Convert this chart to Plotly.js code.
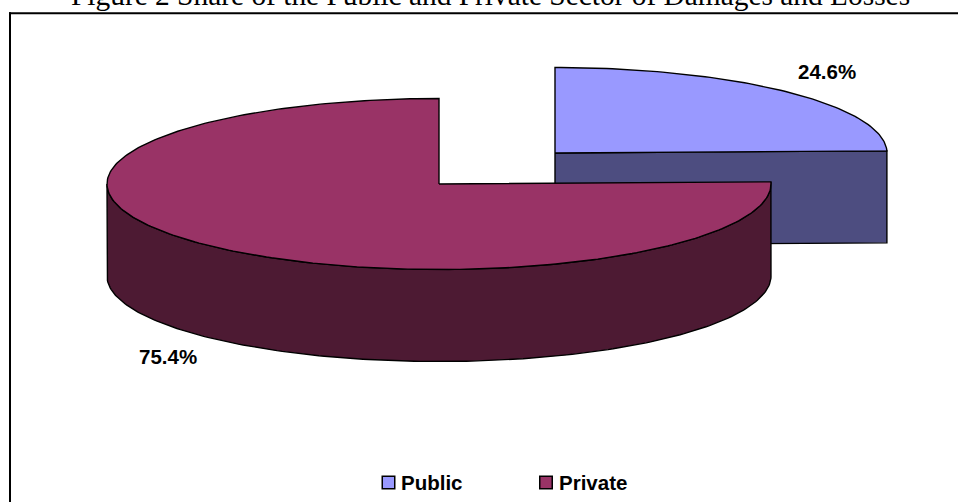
<!DOCTYPE html>
<html>
<head>
<meta charset="utf-8">
<script src="https://cdn.plot.ly/plotly-3.0.1.min.js"></script>
<style>html,body{margin:0;padding:0;background:#fff}</style>
</head>
<body>
<div id="chart" style="width:958px;height:502px"></div>
<script>
// Sector shares, in percent
const categories = ['Public', 'Private'];
const shares = [24.6, 75.4];
const topColors = ['#9999FF', '#993366'];
const sideColors = ['#4D4D80', '#4D1A33'];
const outline = '#000000';

// Projection of the tilted disc, in axis units
const radiusX = 332, radiusY = 85.5, depth = 92;
const centres = [[555, 153], [439, 184]];

// Angles run clockwise from 12 o'clock
function rim(c, deg, drop) {
  const a = deg * Math.PI / 180;
  return [c[0] + radiusX * Math.sin(a), c[1] - radiusY * Math.cos(a) + (drop || 0)];
}
function arc(c, from, to, drop) {
  const pts = [];
  const n = Math.max(2, Math.ceil(Math.abs(to - from)));
  for (let i = 0; i <= n; i++) pts.push(rim(c, from + (to - from) * i / n, drop));
  return pts;
}
function polygon(pts, color, name) {
  return {
    type: 'scatter', mode: 'lines', name: name, showlegend: false, hoverinfo: 'skip',
    x: pts.map(p => p[0]), y: pts.map(p => p[1]),
    fill: 'toself', fillcolor: color,
    line: { color: outline, width: 1.4 }
  };
}

const startDeg = [0, shares[0] * 3.6];
const endDeg = [shares[0] * 3.6, 360];
const traces = [];

// Public slice: cut face below its top, then the top
{
  const c = centres[0];
  const side = [c, rim(c, endDeg[0]), rim(c, endDeg[0], depth), [c[0], c[1] + depth], c];
  traces.push(polygon(side, sideColors[0], categories[0] + ' side'));
  traces.push(polygon([c].concat(arc(c, startDeg[0], endDeg[0]), [c]), topColors[0], categories[0]));
}

// Private slice: outer wall of the visible front half, then the top
{
  const c = centres[1];
  const front = arc(c, startDeg[1], 270);
  const back = arc(c, 270, startDeg[1], depth);
  traces.push(polygon(front.concat(back, [front[0]]), sideColors[1], categories[1] + ' side'));
  traces.push(polygon([c].concat(arc(c, startDeg[1], endDeg[1]), [c]), topColors[1], categories[1]));
}

// Legend keys
const legendX = [388.5, 546];
categories.forEach((name, i) => {
  traces.push({
    type: 'scatter', mode: 'markers', showlegend: false, hoverinfo: 'skip',
    x: [legendX[i]], y: [482.5],
    marker: { symbol: 'square', size: 12.5, color: topColors[i], line: { color: outline, width: 1.5 } }
  });
});

const labelFont = { family: '"Liberation Sans", Arial, sans-serif', size: 20.5, color: '#000' };
const annotations = [
  { x: 826.5, y: 71, text: shares[0].toFixed(1) + '%' },
  { x: 167.5, y: 356, text: shares[1].toFixed(1) + '%' },
  { x: 432, y: 482.5, text: categories[0] },
  { x: 592.5, y: 482.5, text: categories[1] }
].map(a => Object.assign(a, {
  xref: 'x', yref: 'y', showarrow: false, font: labelFont,
  text: '<b>' + a.text + '</b>'
}));
annotations.push({
  xref: 'x', yref: 'y', x: 490, y: 13.5, yanchor: 'bottom', showarrow: false,
  text: 'Figure 2 Share of the Public and Private Sector of Damages and Losses',
  font: { family: '"Liberation Serif", "Times New Roman", serif', size: 29.4, color: '#000' }
});

const layout = {
  width: 958, height: 502,
  margin: { l: 0, r: 0, t: 0, b: 0 },
  paper_bgcolor: '#fff', plot_bgcolor: '#fff',
  showlegend: false,
  xaxis: { range: [0, 958], visible: false, fixedrange: true },
  yaxis: { range: [502, 0], visible: false, fixedrange: true },
  annotations: annotations,
  // Chart frame: only its top and left edges fall inside the page
  shapes: [
    { type: 'line', xref: 'x', yref: 'y', x0: 9, y0: 13.3, x1: 958, y1: 13.3, line: { color: '#000', width: 2 } },
    { type: 'line', xref: 'x', yref: 'y', x0: 10, y0: 12.3, x1: 10, y1: 502, line: { color: '#000', width: 2 } }
  ]
};

Plotly.newPlot('chart', traces, layout, { displayModeBar: false, staticPlot: true });
</script>
</body>
</html>
